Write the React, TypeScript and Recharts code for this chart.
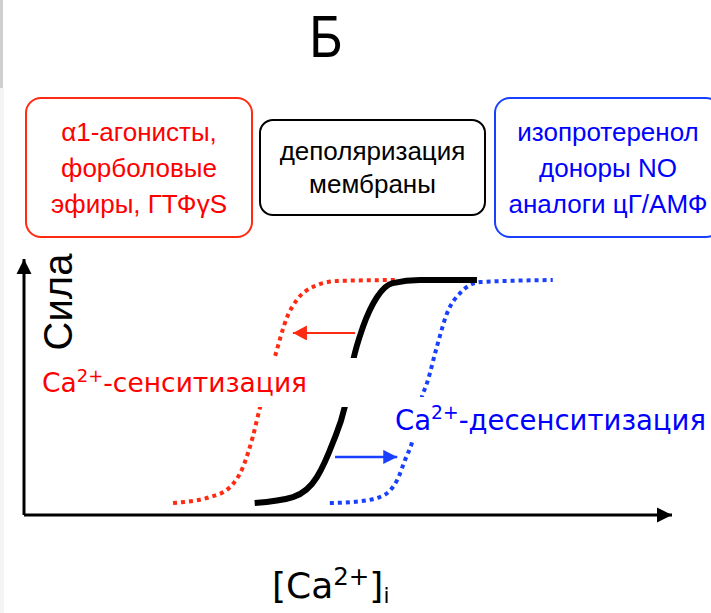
import React from "react";
import { LineChart, Line, XAxis, YAxis } from "recharts";

// [Ca2+]i (x) vs force (y), both in 0..100 units
const controlCa = [35.6, 41.5, 45.2, 47.7, 49.5, 50.8, 52.3, 54.5, 56.9, 61.1, 69.9];
const controlForce = [4.7, 7.0, 14.8, 28.5, 42.2, 60.5, 73.4, 85.2, 90.6, 91.8, 91.8];

const sensCa = [23.0, 28.7, 31.8, 33.8, 35.3, 36.4, 38.7, 40.6, 42.1, 44.6, 48.3, 57.3];
const sensForce = [4.7, 7.0, 10.9, 18.8, 30.5, 41.8, 61.7, 77.3, 84.0, 89.1, 91.4, 91.8];

const desensCa = [47.2, 50.8, 54.9, 57.6, 58.8, 59.9, 61.4, 62.2, 63.7, 65.3, 67.3, 70.4, 81.6];
const desensForce = [4.7, 5.1, 7.0, 13.7, 21.5, 28.5, 46.1, 51.6, 65.6, 78.9, 86.7, 91.0, 91.8];

// shift arrows
const leftShiftCa = [51.1, 41.5];
const leftShiftForce = [71.1, 71.1];
const rightShiftCa = [48.0, 57.6];
const rightShiftForce = [22.7, 22.7];

const title = "Б";
const leftBoxLines = ["α1-агонисты,", "форболовые", "эфиры, ГТФγS"];
const middleBoxLines = ["деполяризация", "мембраны"];
const rightBoxLines = ["изопротеренол", "доноры NO", "аналоги цГ/АМФ"];
const yLabel = "Сила";

const toPoints = (xs: number[], ys: number[]) => xs.map((ca, i) => ({ ca, force: ys[i] }));

const RED = "#ff2a12";
const BLUE = "#1a40ff";

const Box: React.FC<{ lines: string[]; color: string; textColor: string; style: React.CSSProperties; lineHeight: number }> = ({ lines, color, textColor, style, lineHeight }) => (
  <div
    style={{
      position: "absolute",
      boxSizing: "border-box",
      border: `2px solid ${color}`,
      borderRadius: 16,
      display: "flex",
      flexDirection: "column",
      justifyContent: "center",
      alignItems: "center",
      color: textColor,
      fontSize: 26,
      lineHeight: `${lineHeight}px`,
      background: "#fff",
      ...style
    }}
  >
    {lines.map(l => (
      <div key={l} style={{ whiteSpace: "nowrap" }}>{l}</div>
    ))}
  </div>
);

const sup: React.CSSProperties = { fontSize: "0.68em", position: "relative", top: "-0.55em" };

export default function App() {
  return (
    <div
      style={{
        position: "absolute",
        left: 0,
        top: 0,
        width: 711,
        height: 613,
        overflow: "hidden",
        background: "#fff",
        fontFamily: "'Liberation Sans', Arial, sans-serif"
      }}
    >
      <svg width={0} height={0} style={{ position: "absolute" }}>
        <defs>
          <marker id="axisRight" markerUnits="userSpaceOnUse" markerWidth={16} markerHeight={16} refX={15} refY={8} orient="0">
            <path d="M0,0.5 L15,8 L0,15.5 Z" fill="#000" />
          </marker>
          <marker id="axisUp" markerUnits="userSpaceOnUse" markerWidth={16} markerHeight={16} refX={8} refY={0} orient="0">
            <path d="M0.5,15 L8,0 L15.5,15 Z" fill="#000" />
          </marker>
          <marker id="redHead" markerUnits="userSpaceOnUse" markerWidth={16} markerHeight={16} refX={14} refY={7.5} orient="auto">
            <path d="M0,0 L14,7.5 L0,15 Z" fill={RED} />
          </marker>
          <marker id="blueHead" markerUnits="userSpaceOnUse" markerWidth={16} markerHeight={16} refX={14} refY={7} orient="auto">
            <path d="M0,0 L14,7 L0,14 Z" fill={BLUE} />
          </marker>
        </defs>
      </svg>

      {/* faint edge of the slide */}
      <div style={{ position: "absolute", left: 0, top: 0, width: 3, height: 88, background: "#cfcfcf" }} />
      <div style={{ position: "absolute", left: 0, top: 88, width: 4, height: 525, background: "#f4f4f4" }} />

      <div
        style={{
          position: "absolute",
          left: 0,
          top: 7,
          width: 652,
          textAlign: "center",
          fontSize: 60,
          lineHeight: "60px",
          transform: "scaleX(0.85)",
          transformOrigin: "326px 0"
        }}
      >
        {title}
      </div>

      <Box lines={leftBoxLines} color={RED} textColor="#ff0000" lineHeight={36} style={{ left: 25, top: 97, width: 228, height: 141 }} />
      <Box lines={middleBoxLines} color="#000" textColor="#000" lineHeight={33} style={{ left: 259, top: 119, width: 227, height: 97, borderRadius: 14 }} />
      <Box lines={rightBoxLines} color={BLUE} textColor="#0000ff" lineHeight={36} style={{ left: 494, top: 97, width: 228, height: 141 }} />

      <div style={{ position: "absolute", left: 0, top: 0 }}>
        <LineChart width={711} height={613} margin={{ top: 259, right: 39, bottom: 97, left: 23 }}>
          <XAxis
            type="number"
            dataKey="ca"
            domain={[0, 100]}
            height={1}
            tick={false}
            tickLine={false}
            axisLine={{ stroke: "#000", strokeWidth: 3, markerEnd: "url(#axisRight)" }}
          />
          <YAxis
            type="number"
            dataKey="force"
            domain={[0, 100]}
            width={1}
            tick={false}
            tickLine={false}
            axisLine={{ stroke: "#000", strokeWidth: 3, markerStart: "url(#axisUp)" }}
          />
          <Line
            data={toPoints(sensCa, sensForce)}
            dataKey="force"
            type="monotone"
            stroke={RED}
            strokeWidth={4}
            strokeDasharray="4 4"
            dot={false}
            activeDot={false}
            isAnimationActive={false}
          />
          <Line
            data={toPoints(desensCa, desensForce)}
            dataKey="force"
            type="monotone"
            stroke={BLUE}
            strokeWidth={4}
            strokeDasharray="4 4"
            dot={false}
            activeDot={false}
            isAnimationActive={false}
          />
          <Line
            data={toPoints(controlCa, controlForce)}
            dataKey="force"
            type="monotone"
            stroke="#000"
            strokeWidth={6}
            dot={false}
            activeDot={false}
            isAnimationActive={false}
          />
          <Line
            data={toPoints(leftShiftCa, leftShiftForce)}
            dataKey="force"
            type="linear"
            stroke={RED}
            strokeWidth={2}
            markerEnd="url(#redHead)"
            dot={false}
            activeDot={false}
            isAnimationActive={false}
          />
          <Line
            data={toPoints(rightShiftCa, rightShiftForce)}
            dataKey="force"
            type="linear"
            stroke={BLUE}
            strokeWidth={2.5}
            markerEnd="url(#blueHead)"
            dot={false}
            activeDot={false}
            isAnimationActive={false}
          />
        </LineChart>
      </div>

      {/* y axis title */}
      <div
        style={{
          position: "absolute",
          left: 58,
          top: 302,
          transform: "translate(-50%, -50%) rotate(-90deg)",
          fontSize: 40,
          lineHeight: "40px",
          whiteSpace: "nowrap"
        }}
      >
        {yLabel}
      </div>

      {/* curve labels, white background hides the curves behind them */}
      <div
        style={{
          position: "absolute",
          left: 40,
          top: 358,
          width: 322,
          height: 49,
          background: "#fff",
          color: "#ff0000",
          fontFamily: "'DejaVu Sans', sans-serif",
          fontSize: 26.5,
          display: "flex",
          alignItems: "center",
          paddingLeft: 2,
          boxSizing: "border-box",
          whiteSpace: "nowrap"
        }}
      >
        <span>Ca<span style={sup}>2+</span>-сенситизация</span>
      </div>
      <div
        style={{
          position: "absolute",
          left: 390,
          top: 397,
          width: 321,
          height: 45,
          background: "#fff",
          color: "#0000ff",
          fontFamily: "'DejaVu Sans', sans-serif",
          fontSize: 27.5,
          display: "flex",
          alignItems: "center",
          paddingLeft: 5,
          boxSizing: "border-box",
          whiteSpace: "nowrap"
        }}
      >
        <span>Ca<span style={sup}>2+</span>-десенситизация</span>
      </div>

      {/* x axis title */}
      <div
        style={{
          position: "absolute",
          left: 272,
          top: 564,
          fontFamily: "'DejaVu Sans', sans-serif",
          fontSize: 36,
          lineHeight: "44px",
          whiteSpace: "nowrap"
        }}
      >
        [Ca<span style={sup}>2+</span>]<span style={{ fontSize: "0.6em", position: "relative", top: "0.25em" }}>i</span>
      </div>
    </div>
  );
}
